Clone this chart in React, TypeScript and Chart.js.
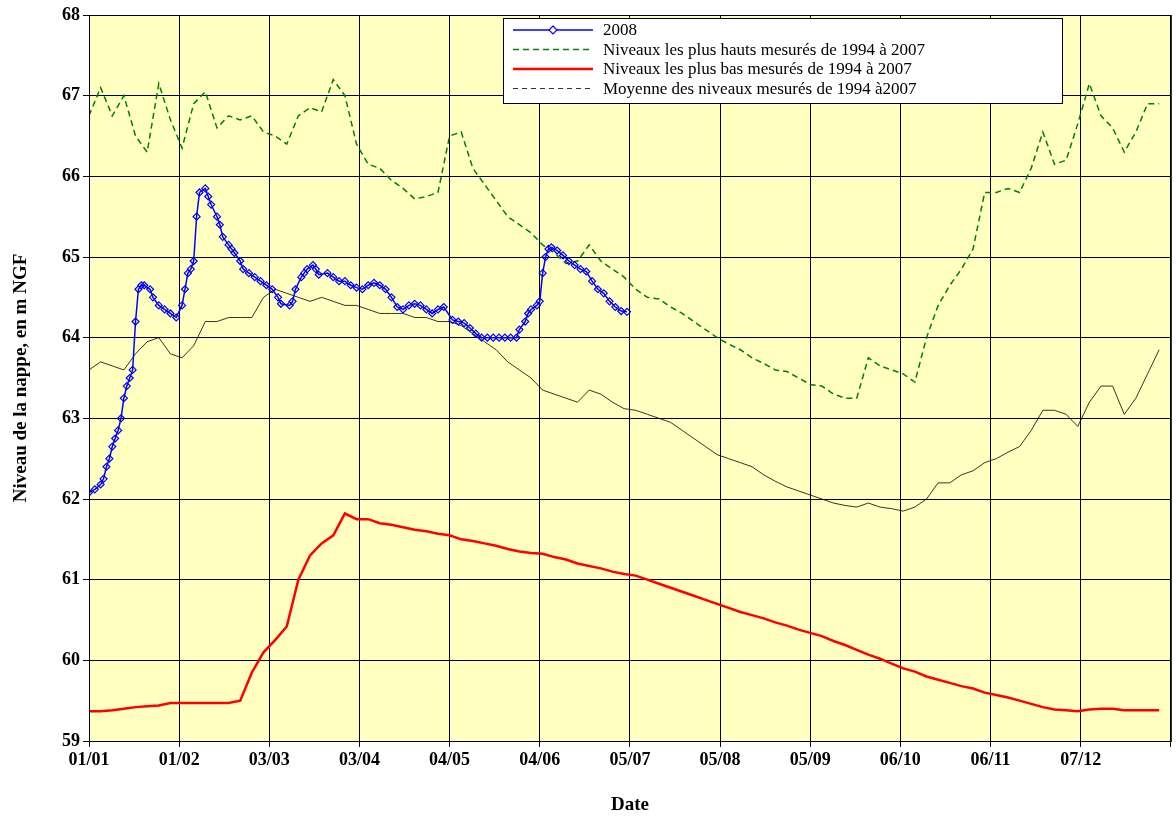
import { useEffect, useRef } from "react";
import { Chart, registerables } from "chart.js";

Chart.register(...registerables);

// x values: day of year 2008 (0 = 01/01)
const days2008 = [
  0, 2, 4, 5, 6, 7, 8, 9, 10, 11, 12, 13, 14, 15, 16, 17, 18, 19, 21, 22, 24, 26, 28, 30, 32, 33, 34, 35, 36, 37,
  38, 40, 41, 42, 44, 45, 46, 48, 49, 50, 52, 53, 55, 57, 59, 61, 63, 65, 66, 69, 70, 71, 73, 74, 75, 77, 78, 79,
  82, 84, 86, 88, 90, 92, 94, 96, 98, 100, 102, 104, 106, 108, 110, 112, 114, 116, 118, 120, 122, 125, 127, 129,
  131, 133, 135, 137, 139, 141, 143, 145, 147, 148, 150, 151, 152, 154, 155, 156, 157, 158, 159, 161, 163, 165,
  167, 169, 171, 173, 175, 177, 179, 181, 183, 185,
];
const values2008 = [
  62.08, 62.12, 62.18, 62.25, 62.4, 62.5, 62.65, 62.75, 62.85, 63.0, 63.25, 63.4, 63.5, 63.6, 64.2, 64.6, 64.65, 64.65, 64.6, 64.5, 64.4, 64.35, 64.3, 64.25, 64.4, 64.6, 64.8, 64.85, 64.95, 65.5,
  65.8, 65.85, 65.75, 65.65, 65.5, 65.4, 65.25, 65.15, 65.1, 65.05, 64.95, 64.85, 64.8, 64.75, 64.7, 64.65, 64.6, 64.5, 64.42, 64.4, 64.45, 64.6, 64.75, 64.8, 64.85, 64.9, 64.85, 64.78,
  64.8, 64.75, 64.7, 64.7, 64.65, 64.62, 64.6, 64.65, 64.68, 64.65, 64.6, 64.5, 64.38, 64.35, 64.4, 64.42, 64.4, 64.35, 64.3, 64.35, 64.38, 64.22, 64.2, 64.18,
  64.12, 64.05, 64.0, 64.0, 64.0, 64.0, 64.0, 64.0, 64.0, 64.1, 64.2, 64.3, 64.35, 64.4, 64.45, 64.8, 65.0, 65.1, 65.12, 65.08, 65.02, 64.95,
  64.9, 64.85, 64.82, 64.7, 64.6, 64.55, 64.45, 64.38, 64.33, 64.32,
];

// every 4 days, 0..368
const sampleDays = Array.from({ length: 93 }, (_, i) => i * 4);
const maxValues = [
  66.75, 67.1, 66.75, 67.0, 66.5, 66.3, 67.15, 66.7, 66.35, 66.9, 67.05, 66.6, 66.75, 66.7, 66.75, 66.55, 66.5, 66.4, 66.75, 66.85,
  66.8, 67.2, 67.0, 66.4, 66.15, 66.1, 65.95, 65.85, 65.72, 65.75, 65.8, 66.5, 66.55, 66.1, 65.9, 65.7, 65.5, 65.4, 65.3, 65.15,
  65.05, 64.92, 64.95, 65.15, 64.95, 64.85, 64.75, 64.6, 64.5, 64.48, 64.38, 64.3, 64.2, 64.1, 64.0, 63.92, 63.85, 63.75, 63.68, 63.6,
  63.58, 63.5, 63.42, 63.4, 63.3, 63.25, 63.25, 63.75, 63.65, 63.6, 63.55, 63.45, 64.0, 64.4, 64.65, 64.85, 65.1, 65.8, 65.8, 65.85,
  65.8, 66.1, 66.55, 66.15, 66.2, 66.65, 67.15, 66.75, 66.6, 66.3, 66.55, 66.9, 66.9,
];
const minValues = [
  59.37, 59.37, 59.38, 59.4, 59.42, 59.43, 59.44, 59.47, 59.47, 59.47, 59.47, 59.47, 59.47, 59.5, 59.85, 60.1, 60.25, 60.42, 61.0, 61.3,
  61.45, 61.55, 61.82, 61.75, 61.75, 61.7, 61.68, 61.65, 61.62, 61.6, 61.57, 61.55, 61.5, 61.48, 61.45, 61.42, 61.38, 61.35, 61.33, 61.32,
  61.28, 61.25, 61.2, 61.17, 61.14, 61.1, 61.07, 61.05, 61.0, 60.95, 60.9, 60.85, 60.8, 60.75, 60.7, 60.65, 60.6, 60.56, 60.52, 60.47,
  60.43, 60.38, 60.34, 60.3, 60.24, 60.19, 60.13, 60.07, 60.02, 59.96, 59.9, 59.86, 59.8, 59.76, 59.72, 59.68, 59.65, 59.6, 59.57, 59.54,
  59.5, 59.46, 59.42, 59.39, 59.38, 59.37, 59.39, 59.4, 59.4, 59.38, 59.38, 59.38, 59.38,
];
const meanValues = [
  63.6, 63.7, 63.65, 63.6, 63.8, 63.95, 64.0, 63.8, 63.75, 63.9, 64.2, 64.2, 64.25, 64.25, 64.25, 64.5, 64.6, 64.55, 64.5, 64.45,
  64.5, 64.45, 64.4, 64.4, 64.35, 64.3, 64.3, 64.3, 64.25, 64.25, 64.2, 64.2, 64.15, 64.05, 63.95, 63.85, 63.7, 63.6, 63.5, 63.35,
  63.3, 63.25, 63.2, 63.35, 63.3, 63.2, 63.12, 63.1, 63.05, 63.0, 62.95, 62.85, 62.75, 62.65, 62.55, 62.5, 62.45, 62.4, 62.3, 62.22,
  62.15, 62.1, 62.05, 62.0, 61.95, 61.92, 61.9, 61.95, 61.9, 61.88, 61.85, 61.9, 62.0, 62.2, 62.2, 62.3, 62.35, 62.45, 62.5, 62.58,
  62.65, 62.85, 63.1, 63.1, 63.05, 62.9, 63.2, 63.4, 63.4, 63.05, 63.25, 63.55, 63.85,
];

const legendLabels = [
  "2008",
  "Niveaux les plus hauts mesurés de 1994 à 2007",
  "Niveaux les plus bas mesurés de 1994 à 2007",
  "Moyenne des niveaux mesurés de 1994 à2007",
];

const FONT = "'Liberation Serif', 'Times New Roman', serif";

const pair = (xs: number[], ys: number[]) => xs.map((x, i) => ({ x, y: ys[i] }));

const backgroundPlugin = {
  id: "bg",
  beforeDraw(chart: any) {
    const { ctx, chartArea: a } = chart;
    ctx.save();
    ctx.fillStyle = "#FFFFC0";
    ctx.fillRect(a.left, a.top, a.right - a.left, a.bottom - a.top);
    ctx.restore();
  },
  afterDraw(chart: any) {
    const { ctx, chartArea: a } = chart;
    ctx.save();
    ctx.strokeStyle = "#000";
    ctx.lineWidth = 1;
    ctx.strokeRect(a.left + 0.5, a.top + 0.5, a.right - a.left, a.bottom - a.top);
    // legend box
    const lx = 503, ly = 18, lw = 559, lh = 85;
    ctx.fillStyle = "#fff";
    ctx.fillRect(lx, ly, lw, lh);
    ctx.strokeRect(lx + 0.5, ly + 0.5, lw, lh);
    const styles = [
      { color: "#0000FF", width: 1.5, dash: [] as number[], marker: true },
      { color: "#008000", width: 1.5, dash: [6, 4], marker: false },
      { color: "#FF0000", width: 2.5, dash: [] as number[], marker: false },
      { color: "#000", width: 0.8, dash: [5, 4], marker: false },
    ];
    ctx.font = `17px ${FONT}`;
    ctx.textBaseline = "middle";
    styles.forEach((s, i) => {
      const y = ly + 12 + i * 19.5;
      ctx.strokeStyle = s.color;
      ctx.lineWidth = s.width;
      ctx.setLineDash(s.dash);
      ctx.beginPath();
      ctx.moveTo(lx + 10, y);
      ctx.lineTo(lx + 90, y);
      ctx.stroke();
      ctx.setLineDash([]);
      if (s.marker) {
        ctx.lineWidth = 1.2;
        ctx.beginPath();
        ctx.moveTo(lx + 50, y - 4);
        ctx.lineTo(lx + 54, y);
        ctx.lineTo(lx + 50, y + 4);
        ctx.lineTo(lx + 46, y);
        ctx.closePath();
        ctx.fillStyle = "#fff";
        ctx.fill();
        ctx.stroke();
      }
      ctx.fillStyle = "#000";
      ctx.fillText(legendLabels[i], lx + 100, y + 1);
    });
    ctx.restore();
  },
};

function formatDay(v: number) {
  const d = new Date(2008, 0, 1 + v);
  const dd = String(d.getDate()).padStart(2, "0");
  const mm = String(d.getMonth() + 1).padStart(2, "0");
  return `${dd}/${mm}`;
}

export default function App() {
  const canvasRef = useRef<HTMLCanvasElement | null>(null);
  const chartRef = useRef<Chart | null>(null);

  useEffect(() => {
    document.body.style.margin = "0";
    if (!canvasRef.current) return;
    if (chartRef.current) chartRef.current.destroy();

    chartRef.current = new Chart(canvasRef.current, {
      type: "line",
      data: {
        datasets: [
          {
            label: legendLabels[0],
            data: pair(days2008, values2008),
            borderColor: "#0000FF",
            borderWidth: 1.5,
            pointStyle: "rectRot",
            pointRadius: 3.5,
            pointBorderWidth: 1.2,
            pointBackgroundColor: "rgba(0,0,0,0)",
            pointBorderColor: "#0000FF",
            order: 0,
          },
          {
            label: legendLabels[1],
            data: pair(sampleDays, maxValues),
            borderColor: "#008000",
            borderWidth: 1.5,
            borderDash: [6, 4],
            pointRadius: 0,
          },
          {
            label: legendLabels[2],
            data: pair(sampleDays, minValues),
            borderColor: "#FF0000",
            borderWidth: 2.5,
            pointRadius: 0,
          },
          {
            label: legendLabels[3],
            data: pair(sampleDays, meanValues),
            borderColor: "#000",
            borderWidth: 0.8,
            pointRadius: 0,
          },
        ],
      },
      options: {
        responsive: false,
        animation: false,
        layout: { padding: { top: 15, right: 0, left: 6, bottom: 0 } },
        plugins: { legend: { display: false }, tooltip: { enabled: false } },
        scales: {
          x: {
            type: "linear",
            min: 0,
            max: 372,
            afterFit(scale: any) {
              scale.height = 79;
              scale.paddingRight = 0;
            },
            ticks: {
              stepSize: 31,
              autoSkip: false,
              maxRotation: 0,
              color: "#000",
              font: { family: FONT, size: 18, weight: "bold" },
              callback: (v: any) => (Number(v) >= 372 ? "" : formatDay(Number(v))),
            },
            grid: { color: "#000", lineWidth: 1, tickLength: 6 },
            border: { color: "#000" },
            title: {
              display: true,
              text: "Date",
              color: "#000",
              font: { family: FONT, size: 19, weight: "bold" },
              padding: { top: 16 },
            },
          },
          y: {
            min: 59,
            max: 68,
            afterFit(scale: any) {
              scale.width = 83;
            },
            ticks: {
              stepSize: 1,
              color: "#000",
              font: { family: FONT, size: 18, weight: "bold" },
            },
            grid: { color: "#000", lineWidth: 1, tickLength: 6 },
            border: { color: "#000" },
            title: {
              display: true,
              text: "Niveau de la nappe, en m NGF",
              color: "#000",
              font: { family: FONT, size: 19, weight: "bold" },
              padding: { bottom: 6 },
            },
          },
        },
      },
      plugins: [backgroundPlugin],
    });

    return () => {
      if (chartRef.current) chartRef.current.destroy();
    };
  }, []);

  return (
    <div style={{ width: 1176, height: 820, background: "#fff" }}>
      <canvas ref={canvasRef} width={1176} height={820} />
    </div>
  );
}
